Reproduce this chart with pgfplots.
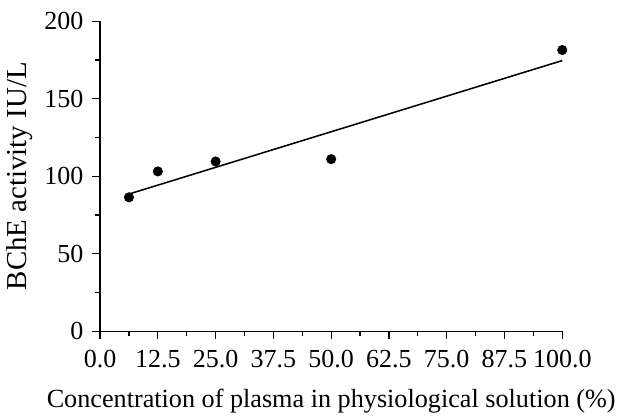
\documentclass[border=0pt]{standalone}
\usepackage{fontspec}
\setmainfont{Liberation Serif}
\usepackage{pgfplots}
\pgfplotsset{compat=1.18}
\begin{document}
\begin{tikzpicture}
\begin{axis}[
  scale only axis,
  width=240pt,
  height=161pt,
  xmin=0, xmax=100,
  ymin=0, ymax=200,
  axis lines*=left,
  axis line style={-, line width=0.7pt},
  tick align=outside,
  major tick length=4pt,
  minor tick length=2.5pt,
  every tick/.style={black, line width=0.6pt},
  xtick={0,12.5,...,100},
  ytick={0,50,...,200},
  minor x tick num=1,
  minor y tick num=1,
  xticklabel style={yshift=-4pt, /pgf/number format/fixed, /pgf/number format/fixed zerofill, /pgf/number format/precision=1},
  /pgf/number format/assume math mode=true,
  ticklabel style={font=\fontsize{13.5}{15}\selectfont, inner sep=1.5pt},
  yticklabel style={xshift=-3pt},
  xlabel style={font=\fontsize{13.6}{16}\selectfont, yshift=-6pt},
  ylabel style={font=\fontsize{15}{17}\selectfont, yshift=1pt},
  xlabel={Concentration of plasma in physiological solution (\%)},
  ylabel={BChE activity IU/L},
  clip=false,
]
\addplot[only marks, mark=*, mark size=2.4pt, black] coordinates {
  (6.25,86.4) (12.5,103.1) (25,109.5) (50,111.0) (100,181.4)
};
\addplot[black, line width=0.8pt] coordinates {(6.25,88.5) (100,174.6)};
\path (rel axis cs:0,1) -- ++(0pt,11pt);
\end{axis}
\end{tikzpicture}
\end{document}
